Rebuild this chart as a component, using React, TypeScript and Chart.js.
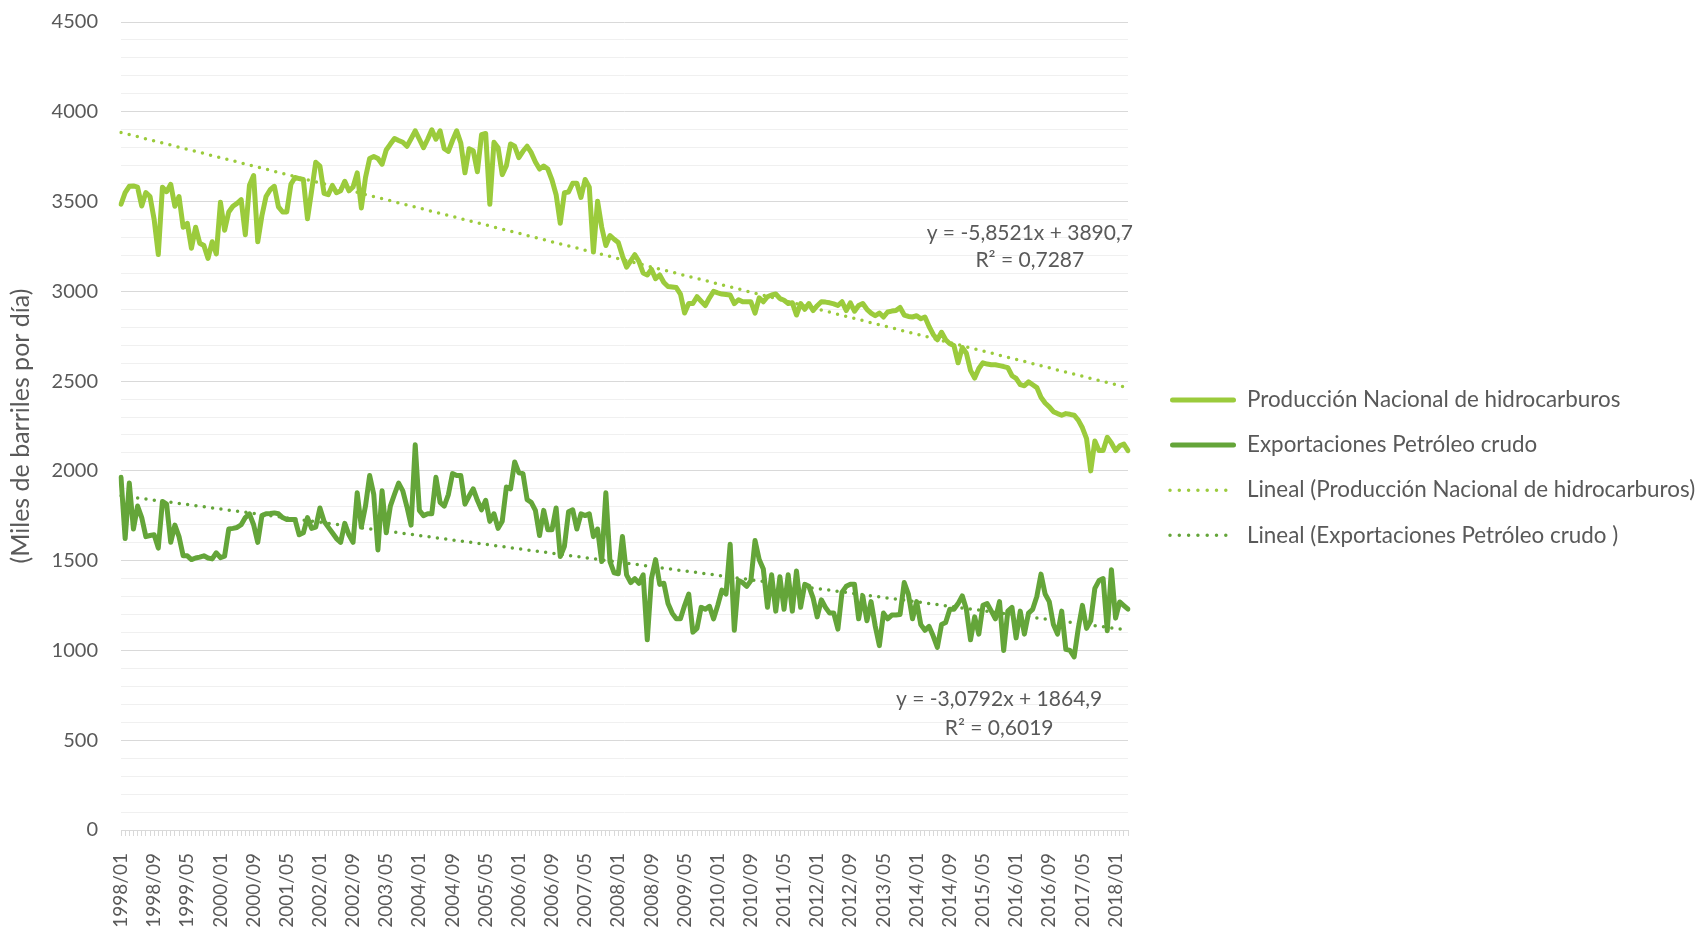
import React, { useEffect, useRef } from 'react';
import { Chart, registerables } from 'chart.js';

Chart.register(...registerables);

// ---------- categories (monthly, 1998/01 .. 2018/04) ----------
const START_YEAR = 1998;
const N_MONTHS = 244;
const CATEGORIES: string[] = Array.from({ length: N_MONTHS }, (_, i) => {
  const yr = START_YEAR + Math.floor(i / 12);
  const m = (i % 12) + 1;
  return `${yr}/${String(m).padStart(2, '0')}`;
});
const LABEL_EVERY = 8;

// ---------- y axis ----------
const Y_MIN = 0;
const Y_MAX = 4500;
const Y_MINOR_STEP = 100;
const Y_MAJOR_STEP = 500;

// ---------- series ----------
const SERIES_NAMES = [
  'Producción Nacional de hidrocarburos',
  'Exportaciones Petróleo crudo',
  'Lineal (Producción Nacional de hidrocarburos)',
  'Lineal (Exportaciones Petróleo crudo )',
];

const PRODUCCION = [
  3485, 3550, 3585, 3587, 3580, 3475, 3550, 3528, 3400, 3205,
  3580, 3555, 3596, 3474, 3528, 3357, 3379, 3240, 3357, 3268,
  3255, 3183, 3276, 3208, 3496, 3340, 3442, 3474, 3490, 3510,
  3315, 3591, 3645, 3276, 3421, 3528, 3566, 3585, 3470, 3442,
  3442, 3596, 3634, 3628, 3623, 3404, 3560, 3719, 3698, 3545,
  3538, 3590, 3549, 3560, 3613, 3560, 3581, 3660, 3464, 3634,
  3740, 3751, 3740, 3708, 3787, 3820, 3851, 3840, 3830, 3808,
  3850, 3894, 3847, 3800, 3847, 3900, 3847, 3894, 3794, 3779,
  3840, 3894, 3826, 3660, 3794, 3783, 3666, 3872, 3879, 3485,
  3830, 3800, 3650, 3700, 3821, 3808, 3745, 3780, 3808, 3772,
  3720, 3681, 3698, 3681, 3620, 3538, 3379, 3549, 3553, 3602,
  3602, 3523, 3623, 3580, 3219, 3502, 3357, 3255, 3311, 3290,
  3272, 3198, 3134, 3170, 3204, 3166, 3102, 3091, 3123, 3070,
  3091, 3049, 3027, 3024, 3021, 2985, 2879, 2932, 2932, 2970,
  2945, 2921, 2964, 3000, 2992, 2985, 2982, 2979, 2932, 2953,
  2942, 2942, 2942, 2879, 2964, 2942, 2970, 2980, 2985, 2960,
  2950, 2932, 2936, 2868, 2932, 2900, 2932, 2893, 2920, 2942,
  2940, 2936, 2930, 2921, 2942, 2893, 2936, 2889, 2921, 2932,
  2900, 2879, 2864, 2879, 2857, 2885, 2890, 2893, 2910, 2868,
  2860, 2857, 2864, 2847, 2857, 2804, 2760, 2730, 2772, 2730,
  2708, 2698, 2602, 2687, 2655, 2560, 2517, 2570, 2602, 2595,
  2591, 2591, 2586, 2581, 2575, 2530, 2515, 2480, 2474, 2496,
  2480, 2464, 2410, 2378, 2357, 2330, 2319, 2310, 2319, 2315,
  2310, 2283, 2240, 2180, 2000, 2166, 2113, 2113, 2187, 2155,
  2113, 2140, 2149, 2113,
];

const EXPORTACIONES = [
  1964, 1623, 1932, 1676, 1804, 1740, 1634, 1640, 1644, 1570,
  1830, 1815, 1602, 1698, 1634, 1527, 1527, 1506, 1515, 1520,
  1527, 1515, 1510, 1544, 1517, 1525, 1676, 1680, 1685, 1700,
  1740, 1761, 1700, 1602, 1751, 1761, 1763, 1766, 1761, 1740,
  1729, 1729, 1729, 1644, 1655, 1740, 1680, 1687, 1793, 1719,
  1687, 1655, 1623, 1602, 1708, 1644, 1602, 1878, 1687, 1804,
  1974, 1868, 1560, 1889, 1655, 1804, 1870, 1932, 1889, 1800,
  1698, 2145, 1780, 1751, 1761, 1761, 1964, 1825, 1804, 1868,
  1985, 1974, 1974, 1815, 1860, 1900, 1836, 1783, 1836, 1719,
  1761, 1680, 1720, 1910, 1900, 2050, 1990, 1985, 1840, 1825,
  1780, 1640, 1780, 1672, 1672, 1793, 1523, 1580, 1772, 1783,
  1676, 1761, 1751, 1761, 1634, 1676, 1495, 1878, 1495, 1432,
  1427, 1634, 1421, 1378, 1400, 1374, 1421, 1059, 1400, 1506,
  1368, 1374, 1261, 1208, 1176, 1176, 1250, 1314, 1102, 1123,
  1240, 1229, 1246, 1176, 1251, 1336, 1314, 1591, 1112, 1389,
  1378, 1357, 1389, 1612, 1506, 1453, 1240, 1421, 1219, 1410,
  1229, 1421, 1219, 1442, 1240, 1368, 1357, 1293, 1187, 1282,
  1240, 1208, 1208, 1119, 1325, 1357, 1368, 1368, 1176, 1304,
  1165, 1272, 1136, 1027, 1208, 1176, 1197, 1197, 1200, 1378,
  1314, 1176, 1272, 1144, 1112, 1134, 1080, 1017, 1144, 1155,
  1229, 1229, 1261, 1304, 1229, 1059, 1187, 1091, 1251, 1261,
  1220, 1176, 1272, 1000, 1219, 1240, 1070, 1219, 1091, 1208,
  1229, 1300, 1425, 1314, 1272, 1144, 1091, 1219, 1006, 1000,
  964, 1123, 1251, 1123, 1165, 1346, 1389, 1400, 1110, 1450,
  1180, 1270, 1250, 1230,
];

// ---------- linear trend lines (coefficients as printed on the chart) ----------
const PROD_TREND_SLOPE = -5.8521;
const PROD_TREND_INTERCEPT = 3890.7;
const EXP_TREND_SLOPE = -3.0792;
const EXP_TREND_INTERCEPT = 1864.9;

const TREND_LABEL_TEXTS = [
  'y = -5,8521x + 3890,7',
  'R² = 0,7287',
  'y = -3,0792x + 1864,9',
  'R² = 0,6019',
];

// ---------- styling ----------
const COLOR_PROD = '#9BCB3C';
const COLOR_EXP = '#64A539';
const TEXT_COLOR = '#595959';
const GRID_MAJOR = '#d9d9d9';
const GRID_MINOR = '#f0f0f0';
const FONT_FAMILY = 'Lato';

Chart.defaults.font.family = FONT_FAMILY;

export default function App() {
  const ref = useRef<HTMLCanvasElement | null>(null);

  useEffect(() => {
    document.body.style.margin = '0';
    const canvas = ref.current;
    if (!canvas) return;

    const trendProd = CATEGORIES.map((_, i) => PROD_TREND_SLOPE * (i + 1) + PROD_TREND_INTERCEPT);
    const trendExp = CATEGORIES.map((_, i) => EXP_TREND_SLOPE * (i + 1) + EXP_TREND_INTERCEPT);

    // annotation anchors (category index, value) for the trend equations
    const labelAnchors = [
      { text: TREND_LABEL_TEXTS[0], at: 219.3, value: 3323 },
      { text: TREND_LABEL_TEXTS[1], at: 219.3, value: 3173 },
      { text: TREND_LABEL_TEXTS[2], at: 211.9, value: 730 },
      { text: TREND_LABEL_TEXTS[3], at: 211.9, value: 566 },
    ];

    const trendLabelPlugin = {
      id: 'trendLabels',
      afterDatasetsDraw(chart: any) {
        const { ctx } = chart;
        const xs = chart.scales.x;
        const ys = chart.scales.y;
        ctx.save();
        ctx.font = `21px ${FONT_FAMILY}`;
        ctx.fillStyle = TEXT_COLOR;
        ctx.textAlign = 'center';
        ctx.textBaseline = 'middle';
        labelAnchors.forEach((l) => {
          ctx.fillText(l.text, xs.getPixelForValue(l.at), ys.getPixelForValue(l.value));
        });
        ctx.restore();
      },
    };

    // legend drawn to the right of the plot area
    const legendItems = [
      { text: SERIES_NAMES[0], color: COLOR_PROD, dotted: false },
      { text: SERIES_NAMES[1], color: COLOR_EXP, dotted: false },
      { text: SERIES_NAMES[2], color: COLOR_PROD, dotted: true },
      { text: SERIES_NAMES[3], color: COLOR_EXP, dotted: true },
    ];
    const legendPlugin = {
      id: 'sideLegend',
      afterDraw(chart: any) {
        const { ctx, chartArea } = chart;
        const x0 = chartArea.right + 42;
        const x1 = chartArea.right + 108;
        const tx = chartArea.right + 119;
        const y0 = 400;
        const step = 45.1;
        ctx.save();
        legendItems.forEach((it, k) => {
          const y = y0 + k * step;
          ctx.beginPath();
          ctx.strokeStyle = it.color;
          ctx.lineCap = 'round';
          if (it.dotted) {
            ctx.lineWidth = 3.5;
            ctx.setLineDash([0, 9.3]);
            ctx.moveTo(x0, y);
            ctx.lineTo(x1 - 2, y);
          } else {
            ctx.lineWidth = 5;
            ctx.setLineDash([]);
            ctx.moveTo(x0 + 2.5, y);
            ctx.lineTo(x1 - 2.5, y);
          }
          ctx.stroke();
          ctx.setLineDash([]);
          ctx.font = `22.4px ${FONT_FAMILY}`;
          ctx.fillStyle = TEXT_COLOR;
          ctx.textAlign = 'left';
          ctx.textBaseline = 'middle';
          ctx.fillText(it.text, tx, y);
        });
        ctx.restore();
      },
    };

    const lineBase = {
      pointRadius: 0,
      pointHoverRadius: 0,
      tension: 0,
      fill: false,
    };

    const chart = new Chart(canvas, {
      type: 'line',
      data: {
        labels: CATEGORIES,
        datasets: [
          {
            ...lineBase,
            label: SERIES_NAMES[0],
            data: PRODUCCION,
            borderColor: COLOR_PROD,
            backgroundColor: COLOR_PROD,
            borderWidth: 5,
            borderJoinStyle: 'round',
            borderCapStyle: 'round',
          },
          {
            ...lineBase,
            label: SERIES_NAMES[1],
            data: EXPORTACIONES,
            borderColor: COLOR_EXP,
            backgroundColor: COLOR_EXP,
            borderWidth: 5,
            borderJoinStyle: 'round',
            borderCapStyle: 'round',
          },
          {
            ...lineBase,
            label: SERIES_NAMES[2],
            data: trendProd,
            borderColor: COLOR_PROD,
            backgroundColor: COLOR_PROD,
            borderWidth: 3.5,
            borderDash: [0, 8.4],
            borderCapStyle: 'round',
          },
          {
            ...lineBase,
            label: SERIES_NAMES[3],
            data: trendExp,
            borderColor: COLOR_EXP,
            backgroundColor: COLOR_EXP,
            borderWidth: 3.5,
            borderDash: [0, 8.4],
            borderCapStyle: 'round',
          },
        ],
      },
      options: {
        animation: false,
        responsive: false,
        events: [],
        layout: { padding: { left: 0, top: 22, right: 578, bottom: 0 } },
        scales: {
          x: {
            type: 'category',
            offset: false,
            grid: {
              display: true,
              drawOnChartArea: false,
              drawTicks: true,
              tickLength: 6,
              color: GRID_MAJOR,
              offset: false,
            },
            border: { display: false },
            ticks: {
              autoSkip: false,
              maxRotation: 90,
              minRotation: 90,
              padding: 17,
              color: TEXT_COLOR,
              font: { family: FONT_FAMILY, size: 19 },
              callback: (_v: any, i: number) => (i % LABEL_EVERY === 0 ? CATEGORIES[i] : ''),
            },
            afterFit: (s: any) => {
              s.height = 99;
              s.paddingLeft = 0;
              s.paddingRight = 0;
            },
          },
          y: {
            min: Y_MIN,
            max: Y_MAX,
            grid: {
              color: (c: any) => (c.tick && c.tick.value % Y_MAJOR_STEP === 0 ? GRID_MAJOR : GRID_MINOR),
              lineWidth: 1,
              drawTicks: false,
            },
            border: { display: false },
            ticks: {
              stepSize: Y_MINOR_STEP,
              autoSkip: false,
              padding: 23,
              color: TEXT_COLOR,
              font: { family: FONT_FAMILY, size: 20 },
              callback: (v: any) => (Number(v) % Y_MAJOR_STEP === 0 ? String(v) : ''),
            },
            title: {
              display: true,
              text: '(Miles de barriles por día)',
              color: TEXT_COLOR,
              font: { family: FONT_FAMILY, size: 25 },
              padding: { top: 6, bottom: 0 },
            },
            afterFit: (s: any) => {
              s.width = 121;
              s.paddingTop = 0;
              s.paddingBottom = 0;
            },
          },
        },
        plugins: {
          legend: { display: false },
          tooltip: { enabled: false },
        },
      } as any,
      plugins: [trendLabelPlugin, legendPlugin],
    });

    return () => {
      chart.destroy();
    };
  }, []);

  return (
    <div style={{ width: '1706px', height: '929px', position: 'relative' }}>
      <canvas ref={ref} width={1706} height={929} style={{ display: 'block' }} />
    </div>
  );
}
